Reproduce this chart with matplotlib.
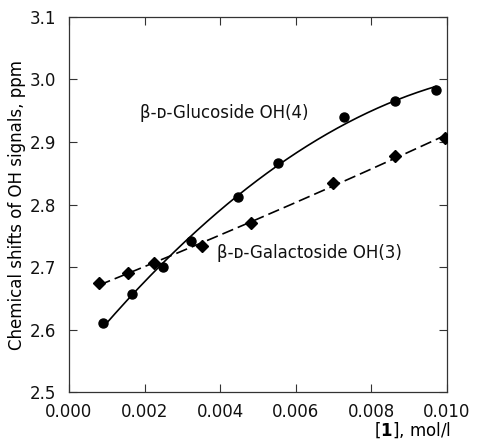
import numpy as np
import matplotlib
matplotlib.use("Agg")
import matplotlib.pyplot as plt
from matplotlib.ticker import FormatStrFormatter, MultipleLocator

# Data
glc_x = [0.00091, 0.00166, 0.00250, 0.00323, 0.00448, 0.00554, 0.00728, 0.00862, 0.00971]
glc_y = [2.611, 2.657, 2.700, 2.742, 2.812, 2.866, 2.940, 2.966, 2.983]
gal_x = [0.00080, 0.00155, 0.00225, 0.00351, 0.00481, 0.00698, 0.00862, 0.00995]
gal_y = [2.674, 2.690, 2.706, 2.733, 2.771, 2.834, 2.878, 2.906]

glc_label = "β-ᴅ-Glucoside OH(4)"
gal_label = "β-ᴅ-Galactoside OH(3)"
y_label = "Chemical shifts of OH signals, ppm"
x_label = "[$\\mathbf{1}$], mol/l"

plt.rcParams['font.family'] = ['DejaVu Sans']
plt.rcParams['mathtext.fontset'] = 'dejavusans'
plt.rcParams['text.color'] = '#111111'

fig = plt.figure(figsize=(4.79, 4.41), dpi=100)
ax = fig.add_axes([0.144, 0.111, 0.789, 0.8505])

# fitted curves (quadratic fit of the data)
for xs, ys, ls in [(glc_x, glc_y, '-'), (gal_x, gal_y, '--')]:
    c = np.polyfit(xs, ys, 2)
    xf = np.linspace(min(xs), max(xs), 200)
    line, = ax.plot(xf, np.polyval(c, xf), color='black', lw=1.2, linestyle=ls)
    if ls == '--':
        line.set_dashes((7, 3))

ax.plot(glc_x, glc_y, 'o', color='black', markersize=6.5, zorder=3)
ax.plot(gal_x, gal_y, 'D', color='black', markersize=6, zorder=3)

ax.text(0.00188, 2.9464, glc_label, fontsize=12, va='center', ha='left')
ax.text(0.003915, 2.7224, gal_label, fontsize=12, va='center', ha='left')

ax.set_xlim(0, 0.010)
ax.set_ylim(2.5, 3.1)
ax.xaxis.set_major_locator(MultipleLocator(0.002))
ax.yaxis.set_major_locator(MultipleLocator(0.1))
ax.xaxis.set_major_formatter(FormatStrFormatter('%.3f'))
ax.yaxis.set_major_formatter(FormatStrFormatter('%.1f'))
ax.tick_params(direction='in', length=6, width=0.8, labelsize=12,
               top=True, right=True, color='#333333', labelcolor='#111111')
ax.tick_params(axis='y', pad=9)
ax.tick_params(axis='x', pad=8)
for s in ax.spines.values():
    s.set_linewidth(0.9)
    s.set_color('#333333')

ax.set_ylabel(y_label, fontsize=12, labelpad=3)
ax.set_xlabel(x_label, fontsize=12)
ax.xaxis.set_label_coords(1.01, -0.075)
ax.xaxis.label.set_horizontalalignment('right')

fig.savefig('out.png', dpi=100)
